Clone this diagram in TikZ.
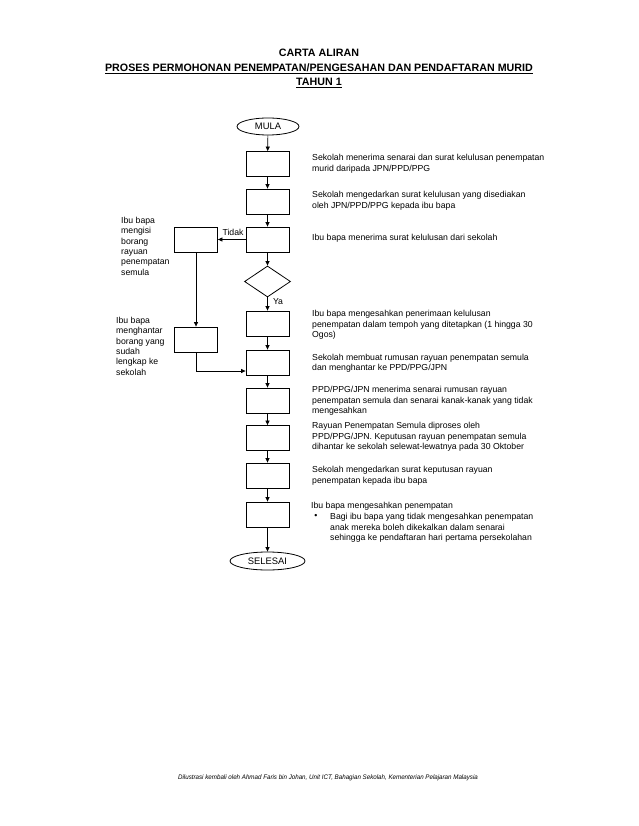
\documentclass[tikz,border=0pt]{standalone}
\usepackage{fontspec}
\setmainfont{Liberation Sans}
\usetikzlibrary{shapes.geometric,arrows.meta,calc}
\begin{document}
\begin{tikzpicture}[x=1pt,y=-1pt,
  box/.style={draw,line width=0.8pt,minimum width=43pt,minimum height=25pt,inner sep=0pt},
  term/.style={draw,ellipse,line width=0.8pt,inner sep=0pt,font=\fontsize{9.4}{10}\selectfont},
  desc/.style={anchor=north west,inner sep=0pt,align=left,font=\fontsize{8.7}{10.8}\selectfont},
  side/.style={anchor=north west,inner sep=0pt,align=left,font=\fontsize{8.7}{10.4}\selectfont},
  flow/.style={line width=0.7pt,-{Triangle[length=4.5pt,width=4pt]}},
  lbl/.style={inner sep=0pt,font=\fontsize{8.7}{10}\selectfont},
  ttl/.style={anchor=base,inner sep=0pt,font=\fontsize{10.7}{12}\selectfont\bfseries}]
\useasboundingbox (0,0) rectangle (638,826);
% title
\node[ttl] (t1) at (319,56.9) {CARTA ALIRAN};
\node[ttl] (t2) at (319,71.9) {\underline{PROSES PERMOHONAN PENEMPATAN/PENGESAHAN DAN PENDAFTARAN MURID}};
\node[ttl] (t3) at (319,85.9) {\underline{TAHUN 1}};
% main flow
\node[term,minimum width=62pt,minimum height=17pt] (mula) at (268,126.5) {MULA};
\node[box] (b1) at (267.5,164) {};
\node[box] (b2) at (267.5,201.5) {};
\node[box] (b3) at (267.5,239.5) {};
\node[draw,diamond,line width=0.8pt,inner sep=0pt,minimum width=46pt,minimum height=31pt] (dia) at (267.5,281.5) {};
\node[box] (b4) at (267.5,323.5) {};
\node[box] (b5) at (267.5,362.5) {};
\node[box] (b6) at (267.5,400.5) {};
\node[box] (b7) at (267.5,438) {};
\node[box] (b8) at (267.5,475.5) {};
\node[box] (b9) at (267.5,514.5) {};
\node[term,minimum width=75pt,minimum height=18pt] (selesai) at (267.5,561) {SELESAI};
% side boxes
\node[box] (lb1) at (196,239.5) {};
\node[box] (lb2) at (196,339.5) {};
\coordinate (j) at (196,371);
% connectors
\draw[flow] (mula) -- (b1);
\draw[flow] (b1) -- (b2);
\draw[flow] (b2) -- (b3);
\draw[flow] (b3) -- (dia);
\draw[flow] (dia) -- (b4);
\draw[flow] (b4) -- (b5);
\draw[flow] (b5) -- (b6);
\draw[flow] (b6) -- (b7);
\draw[flow] (b7) -- (b8);
\draw[flow] (b8) -- (b9);
\draw[flow] (b9) -- (selesai);
\draw[flow] (b3.west) -- (lb1.east);
\draw[flow] (lb1.south) -- (lb2.north);
\draw[flow] (lb2.south) -- (j) -- (j -| b5.west);
\node[lbl] (tidak) at (233,232) {Tidak};
\node[lbl] (ya) at (278,302) {Ya};
% descriptions
\node[desc] (d1) at (312,153.7) {Sekolah menerima senarai dan surat kelulusan penempatan\\murid daripada JPN/PPD/PPG};
\node[desc] (d2) at (312,190.7) {Sekolah mengedarkan surat kelulusan yang disediakan\\oleh JPN/PPD/PPG kepada ibu bapa};
\node[desc] (d3) at (312,233.7) {Ibu bapa menerima surat kelulusan dari sekolah};
\node[desc] (d4) at (312,309.7) {Ibu bapa mengesahkan penerimaan kelulusan\\penempatan dalam tempoh yang ditetapkan (1 hingga 30\\Ogos)};
\node[desc] (d5) at (312,353.5) {Sekolah membuat rumusan rayuan penempatan semula\\dan menghantar ke PPD/PPG/JPN};
\node[desc] (d6) at (312,385.7) {PPD/PPG/JPN menerima senarai rumusan rayuan\\penempatan semula dan senarai kanak-kanak yang tidak\\mengesahkan};
\node[desc] (d7) at (312,421.7) {Rayuan Penempatan Semula diproses oleh\\PPD/PPG/JPN. Keputusan rayuan penempatan semula\\dihantar ke sekolah selewat-lewatnya pada 30 Oktober};
\node[desc] (d8) at (312,466) {Sekolah mengedarkan surat keputusan rayuan\\penempatan kepada ibu bapa};
\node[desc] (d9) at (311,502.3) {Ibu bapa mengesahkan penempatan};
\node[lbl] (bul) at (316,516) {\textbullet};
\node[desc] (d9b) at (330,512.7) {Bagi ibu bapa yang tidak mengesahkan penempatan\\anak mereka boleh dikekalkan dalam senarai\\sehingga ke pendaftaran hari pertama persekolahan};
% side texts
\node[side] (s1) at (121,216.7) {Ibu bapa\\mengisi\\borang\\rayuan\\penempatan\\semula};
\node[side] (s2) at (116,316.7) {Ibu bapa\\menghantar\\borang yang\\sudah\\lengkap ke\\sekolah};
% footer
\node[anchor=base,inner sep=0pt,font=\fontsize{6.6}{7.5}\selectfont\itshape] (foot) at (328,779) {\scalebox{0.94}[1]{Dilustrasi kembali oleh Ahmad Faris bin Johan, Unit ICT, Bahagian Sekolah, Kementerian Pelajaran Malaysia}};
\end{tikzpicture}
\end{document}
